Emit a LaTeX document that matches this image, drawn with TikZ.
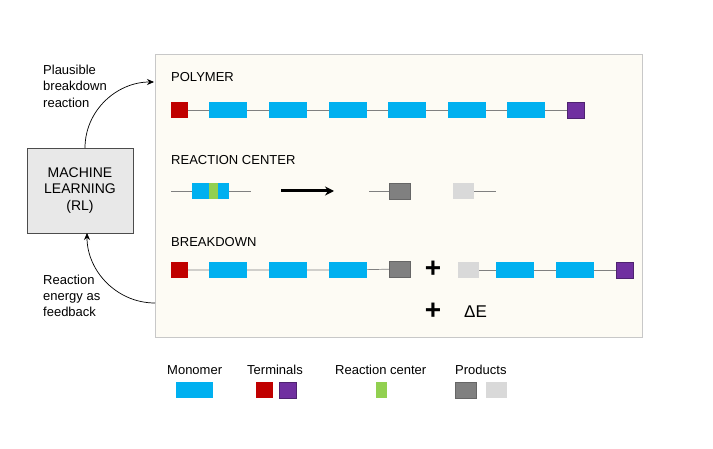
\documentclass[tikz,border=0pt]{standalone}
\usepackage{fontspec}
\setmainfont{Liberation Sans}
\usetikzlibrary{arrows.meta}
\definecolor{mono}{HTML}{00B0F0}
\definecolor{termred}{HTML}{C00000}
\definecolor{termpurple}{HTML}{7030A0}
\definecolor{rcgreen}{HTML}{92D050}
\definecolor{proddark}{HTML}{808080}
\definecolor{prodlight}{HTML}{D9D9D9}
\definecolor{panelfill}{HTML}{FDFBF4}
\definecolor{panelline}{HTML}{C8C8C8}
\definecolor{mlfill}{HTML}{E8E8E8}
\tikzset{
  blk/.style={draw=none, inner sep=0pt, outer sep=0pt},
  monobox/.style={blk, fill=mono, minimum width=38pt, minimum height=16pt},
  redbox/.style={blk, fill=termred, minimum width=17pt, minimum height=16pt},
  purplebox/.style={blk, fill=termpurple, draw=termpurple!70!black, line width=0.4pt, minimum width=17pt, minimum height=16pt},
  darkbox/.style={blk, fill=proddark, draw=proddark!80!black, line width=0.4pt, minimum width=21pt, minimum height=16pt},
  lightbox/.style={blk, fill=prodlight, minimum width=21pt, minimum height=16pt},
  greenbox/.style={blk, fill=rcgreen, minimum width=9pt, minimum height=16pt},
  link/.style={draw=proddark, line width=0.7pt},
  lbl/.style={inner sep=0pt, anchor=west, font=\fontsize{13}{15}\selectfont},
  sidelbl/.style={inner sep=0pt, anchor=north west, align=left, font=\fontsize{13}{16.3}\selectfont},
  curvearrow/.style={draw=black, line width=0.7pt, -{Stealth[length=7pt,width=6pt]}},
  plussign/.style={inner sep=0pt, font=\fontsize{28}{28}\selectfont\bfseries}
}
\begin{document}
\begin{tikzpicture}[x=1pt,y=-1pt]
\useasboundingbox (0,0) rectangle (713,449);
% panel
\node[draw=panelline, fill=panelfill, line width=0.8pt, minimum width=487pt, minimum height=283pt, inner sep=0pt] (panel) at (398.5,195.5) {};
% ML box
\node[draw=black!70, fill=mlfill, line width=0.8pt, minimum width=106pt, minimum height=85pt, inner sep=0pt, align=center, font=\fontsize{14}{16.7}\selectfont] (ml) at (80,190.5) {MACHINE\\LEARNING\\(RL)};
% arrows
\coordinate (pin) at (154,82);
\coordinate (pout) at (155,303);
\coordinate (mltop) at (85,148);
\coordinate (mlbot) at (87,233);
\draw[curvearrow] (mltop) to[out=90,in=180] (pin);
\draw[curvearrow] (pout) to[out=180,in=-90] (mlbot);
\node[sidelbl] (lbltop) at (43,65) {Plausible\\breakdown\\reaction};
\node[sidelbl] (lblbot) at (43,274.5) {Reaction\\energy as\\feedback};
% POLYMER
\node[lbl] (tpoly) at (171,77) {POLYMER};
\node[redbox] (a0) at (179.5,110) {};
\node[monobox] (a1) at (228,110) {};
\node[monobox] (a2) at (288,110) {};
\node[monobox] (a3) at (348,110) {};
\node[monobox] (a4) at (407,110) {};
\node[monobox] (a5) at (467,110) {};
\node[monobox] (a6) at (526,110) {};
\node[purplebox] (a7) at (575.5,110) {};
\draw[link] (a0) -- (a1) (a1) -- (a2) (a2) -- (a3) (a3) -- (a4) (a4) -- (a5) (a5) -- (a6) (a6) -- (a7);
% REACTION CENTER
\node[lbl] (trc) at (171,160) {REACTION CENTER};
\coordinate (rl) at (171,191);
\coordinate (rr) at (251,191);
\node[blk, fill=mono, minimum width=37pt, minimum height=16pt] (rcm) at (210.5,191) {};
\draw[link] (rl) -- (rcm.west) (rcm.east) -- (rr);
\node[greenbox] (rcg) at (213.5,191) {};
\coordinate (ars) at (281,191);
\coordinate (are) at (334,191);
\draw[line width=3pt, -{Stealth[length=9pt,width=9pt]}] (ars) -- (are);
\coordinate (dl) at (369,191);
\node[darkbox] (rcd) at (399.5,191) {};
\draw[link] (dl) -- (rcd);
\node[lightbox] (rcl) at (463.5,191) {};
\coordinate (lr) at (496,191);
\draw[link] (rcl) -- (lr);
% BREAKDOWN
\node[lbl] (tbd) at (171,242) {BREAKDOWN};
\node[redbox] (b0) at (179.5,270) {};
\node[monobox] (b1) at (228,270) {};
\node[monobox] (b2) at (288,270) {};
\node[monobox] (b3) at (348,270) {};
\node[darkbox] (b4) at (399.5,269) {};
\draw[link] (b0) -- (b1) (b1) -- (b2) (b2) -- (b3) (b3) -- (b4);
\node[plussign] (plus1) at (433,269) {+};
\node[lightbox] (c0) at (468.5,270) {};
\node[monobox] (c1) at (515,270) {};
\node[monobox] (c2) at (575,270) {};
\node[purplebox] (c3) at (624.5,270) {};
\draw[link] (c0) -- (c1) (c1) -- (c2) (c2) -- (c3);
\node[plussign] (plus2) at (433,311) {+};
\node[inner sep=0pt, anchor=west, font=\fontsize{17}{17}\selectfont] (de) at (464,312) {ΔE};
% legend
\node[lbl] (lmono) at (167,370) {Monomer};
\node[monobox, minimum width=37pt] (gmono) at (194.5,390) {};
\node[lbl] (lterm) at (247,370) {Terminals};
\node[redbox] (gred) at (264.5,390) {};
\node[purplebox] (gpur) at (287.5,390) {};
\node[lbl] (lrc) at (335,370) {Reaction center};
\node[greenbox, minimum width=11pt] (ggreen) at (381.5,390) {};
\node[lbl] (lprod) at (455,370) {Products};
\node[darkbox] (gdark) at (465.5,390) {};
\node[lightbox] (glight) at (496.5,390) {};
\end{tikzpicture}
\end{document}
